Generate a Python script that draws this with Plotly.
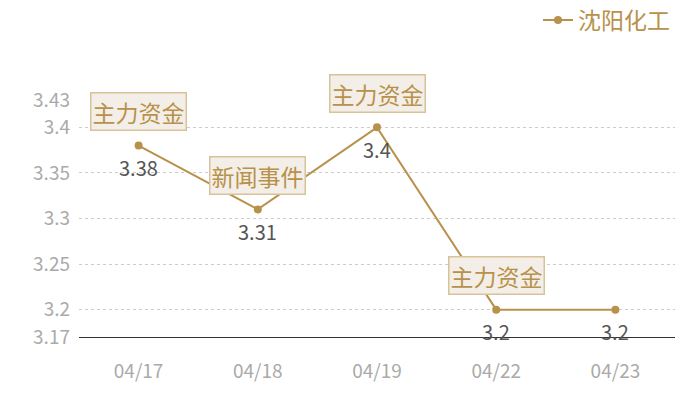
import plotly.graph_objects as go

dates = ["04/17", "04/18", "04/19", "04/22", "04/23"]
prices = [3.38, 3.31, 3.40, 3.20, 3.20]
price_labels = ["3.38", "3.31", "3.4", "3.2", "3.2"]
events = ["主力资金", "新闻事件", "主力资金", "主力资金", None]
y_ticks = [3.17, 3.2, 3.25, 3.3, 3.35, 3.4, 3.43]

gold = "#B8914A"
cjk = "Noto Sans CJK SC"

fig = go.Figure()
fig.add_trace(go.Scatter(
    x=dates, y=prices, name="沈阳化工",
    mode="lines+markers",
    line=dict(color=gold, width=2),
    marker=dict(color=gold, size=8),
))

# value labels under the points
for d, p, lab in zip(dates, prices, price_labels):
    fig.add_annotation(
        x=d, y=p, text=lab, showarrow=False, yshift=-22,
        font=dict(family=cjk, size=20, color="#555555"),
    )

# event tags above the points
for d, p, ev in zip(dates, prices, events):
    if ev is None:
        continue
    fig.add_annotation(
        x=d, y=p, text=ev, showarrow=False, yshift=34,
        font=dict(family=cjk, size=23, color=gold),
        bgcolor="#F3EFE8", bordercolor="#D8C29A", borderwidth=1.5, borderpad=1,
    )

fig.update_layout(
    width=700, height=400,
    margin=dict(l=79, r=25, t=100, b=63),
    plot_bgcolor="white", paper_bgcolor="white",
    font=dict(family=cjk),
    showlegend=True,
    legend=dict(orientation="h", xref="paper", x=1, xanchor="right",
                yref="container", y=0.95, yanchor="middle",
                font=dict(size=23, color=gold), bgcolor="rgba(0,0,0,0)"),
    xaxis=dict(
        type="category", range=[-0.5, 4.5], showgrid=False,
        showline=True, linecolor="#333333", linewidth=1,
        tickfont=dict(size=19, color="#AAAAAA"), ticklabelstandoff=17,
    ),
    yaxis=dict(
        range=[3.17, 3.43], tickvals=y_ticks, ticktext=[str(v) for v in y_ticks],
        showgrid=True, gridcolor="#CCCCCC", griddash="dot", gridwidth=1,
        zeroline=False, showline=False,
        tickfont=dict(size=19, color="#AAAAAA"), ticklabelstandoff=8,
    ),
)

fig.write_html("out.html", config={"displayModeBar": False},
               post_script="document.body.style.margin='0';")
